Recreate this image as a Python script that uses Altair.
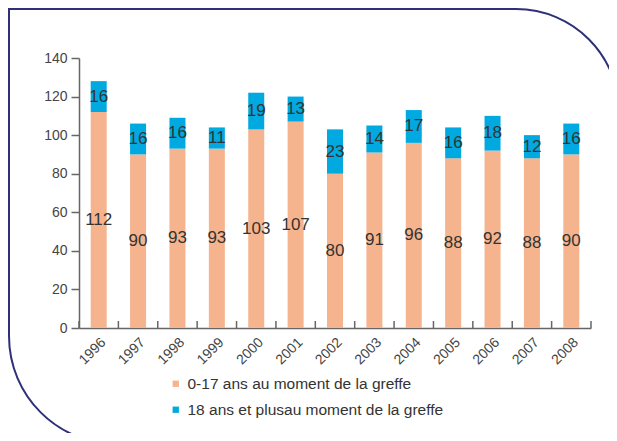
import altair as alt
import pandas as pd

years = ["1996", "1997", "1998", "1999", "2000", "2001", "2002",
         "2003", "2004", "2005", "2006", "2007", "2008"]
young = [112, 90, 93, 93, 103, 107, 80, 91, 96, 88, 92, 88, 90]
adult = [16, 16, 16, 11, 19, 13, 23, 14, 17, 16, 18, 12, 16]
series = ["0-17 ans au moment de la greffe",
          "18 ans et plusau moment de la greffe"]
colors = ["#F5B38E", "#00A9E0"]
y_ticks = [0, 20, 40, 60, 80, 100, 120, 140]

rows = []
for i, yr in enumerate(years):
    rows.append({"year": yr, "series": series[0], "value": young[i], "ord": 0})
    rows.append({"year": yr, "series": series[1], "value": adult[i], "ord": 1})
df = pd.DataFrame(rows)

W, H = 512, 270
FONT = "Liberation Sans"
y_scale = alt.Scale(domain=[0, 140], nice=False)
x_scale = alt.Scale(paddingInner=0, paddingOuter=0)

x_axis = alt.Axis(labelAngle=-45, ticks=False, labelPadding=7,
                  labelFontSize=14, labelColor="#444",
                  domainColor="#666", domainWidth=1.5,
                  labelFont=FONT, labelOverlap=False)
y_axis = alt.Axis(values=y_ticks, grid=False, tickSize=8,
                  labelPadding=4, labelFontSize=14,
                  labelColor="#444", domainColor="#666",
                  domainWidth=1.5, tickColor="#666", tickWidth=1.5,
                  labelFont=FONT, labelOverlap=False)

base = alt.Chart(df)

bars = base.mark_bar(size=16).encode(
    x=alt.X("year:N", sort=years, title=None, scale=x_scale, axis=x_axis),
    y=alt.Y("sum(value):Q", title=None, scale=y_scale, axis=y_axis),
    color=alt.Color("series:N", sort=series,
                    scale=alt.Scale(domain=series, range=colors),
                    legend=alt.Legend(title=None, orient="none",
                                      legendX=89, legendY=318,
                                      symbolType="square", symbolSize=40,
                                      symbolStrokeWidth=0,
                                      labelFontSize=15.5, labelColor="#333",
                                      labelFont=FONT, rowPadding=9,
                                      labelOffset=4, labelLimit=400)),
    order=alt.Order("ord:Q", sort="ascending"),
)

labels = base.transform_stack(
    stack="value", groupby=["year"], as_=["y0", "y1"],
    sort=[alt.SortField("ord", order="ascending")]
).transform_calculate(
    mid="(datum.y0 + datum.y1) / 2"
).mark_text(fontSize=17, color="#333", font=FONT, baseline="middle").encode(
    x=alt.X("year:N", sort=years, title=None, scale=x_scale, axis=x_axis),
    y=alt.Y("mid:Q", title=None, scale=y_scale, axis=y_axis),
    text=alt.Text("value:Q"),
)

ticks_df = pd.DataFrame({"year": years})
xticks = alt.Chart(ticks_df).mark_rule(color="#666", strokeWidth=1.5).encode(
    x=alt.X("year:N", sort=years, title=None, scale=x_scale, axis=x_axis,
            bandPosition=0),
    y=alt.value(H),
    y2=alt.value(H - 7),
)
last_tick = alt.Chart(pd.DataFrame({"a": [0]})).mark_rule(
    color="#666", strokeWidth=1.5).encode(
    x=alt.value(W), y=alt.value(H), y2=alt.value(H - 7))

frame = alt.Chart(pd.DataFrame({"a": [0]})).mark_rect(
    fill=None, stroke="#2E3079", strokeWidth=2, clip=False,
    cornerRadiusTopRight=103, cornerRadiusBottomLeft=108,
).encode(
    x=alt.value(-70), x2=alt.value(540),
    y=alt.value(-49), y2=alt.value(386),
)

chart = alt.layer(bars, labels, xticks, last_tick, frame).properties(
    width=W, height=H,
    autosize=alt.AutoSizeParams(type="none"),
    padding={"left": 71, "top": 50, "right": 18, "bottom": 105},
).configure_view(stroke=None)

chart.save("out.html", embed_options={"renderer": "svg", "actions": False})
